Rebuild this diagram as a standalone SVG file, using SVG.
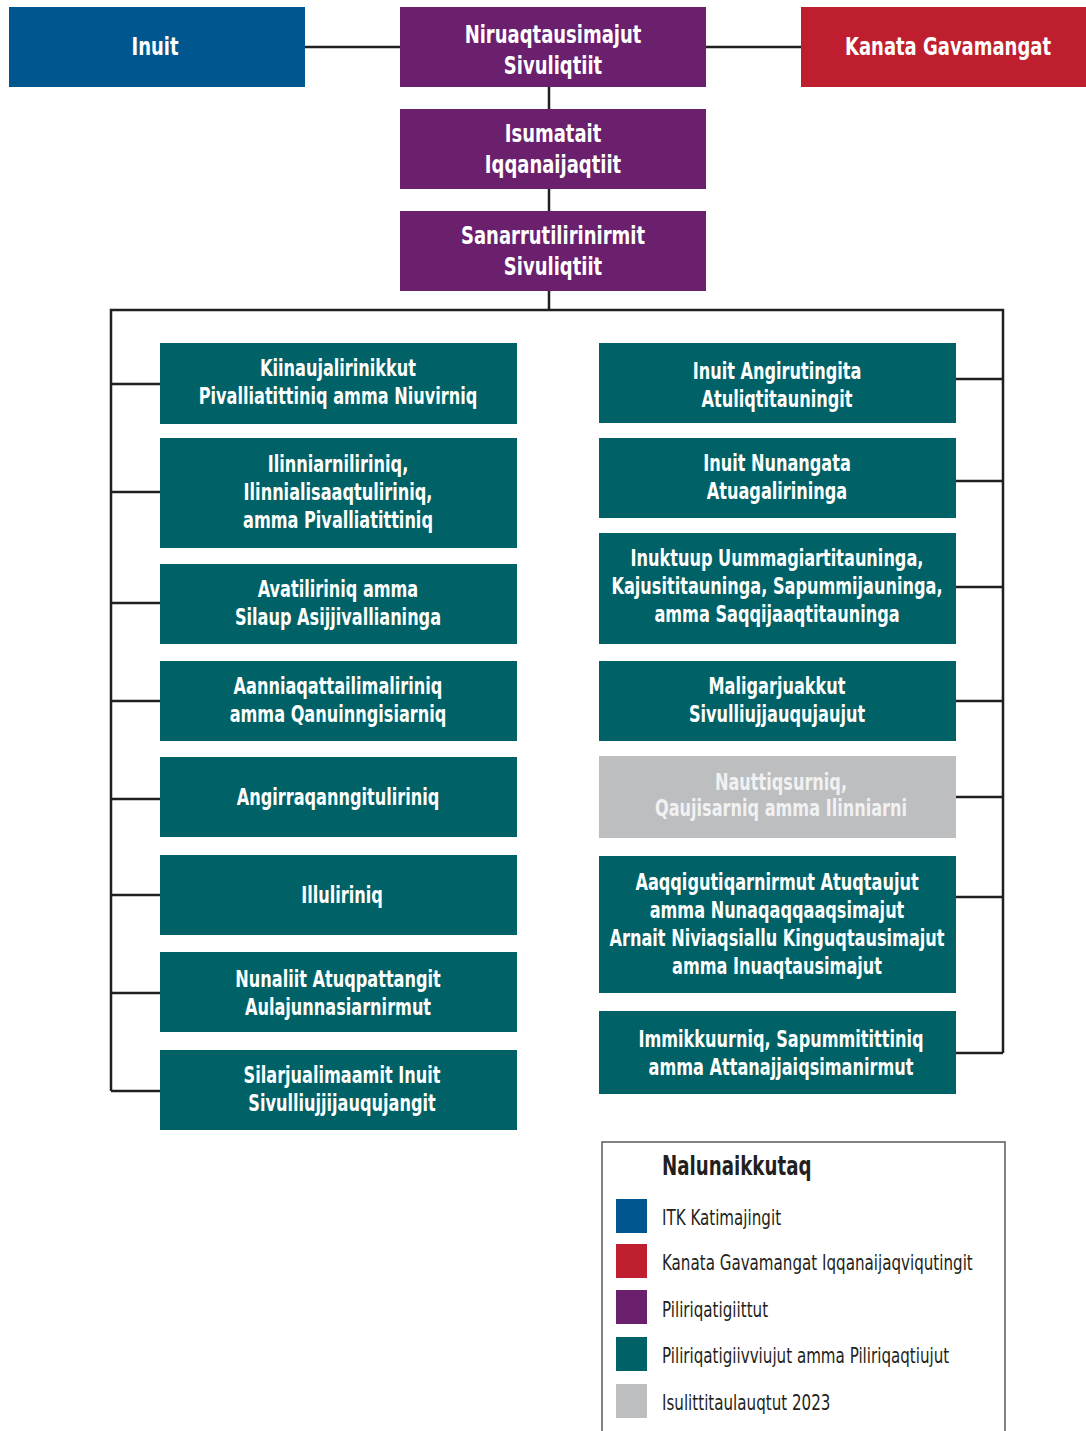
<svg xmlns="http://www.w3.org/2000/svg" width="1086" height="1431" viewBox="0 0 1086 1431">
<style>
.blue{fill:#00568f}.red{fill:#be1e2d}.pur{fill:#6b206e}.teal{fill:#006266}.grey{fill:#bcbec0}
.t{font-family:"Liberation Sans Narrow","DejaVu Sans Condensed","Liberation Sans",sans-serif;font-stretch:condensed;font-weight:bold;fill:#ffffff;text-anchor:middle;transform-box:fill-box;transform-origin:center}
.t24{font-size:25px;transform:scaleX(0.80)}.t22{font-size:23px;transform:scaleX(0.78)}
.gt{fill:#f1f1f2}
.ln{fill:none;stroke:#231f20;stroke-width:2.5}
.lg{font-family:"Liberation Sans Narrow","DejaVu Sans Condensed","Liberation Sans",sans-serif;font-stretch:condensed;fill:#231f20;font-size:20.5px;transform-box:fill-box;transform-origin:0% 50%;transform:scaleX(0.82)}
.lgt{font-weight:bold;font-size:27px;transform:scaleX(0.75)}
</style>
<g id="connectors">
<path class="ln" d="M305,47H400M706,47H801M549,87V109M549,189V211M549,291V310"/>
<path class="ln" d="M111,1091V310H1003V1053"/>
<path class="ln" d="M111,384H160M111,492H160M111,603H160M111,701H160M111,799H160M111,895H160M111,993H160M111,1091H160"/>
<path class="ln" d="M956,379H1003M956,481H1003M956,587H1003M956,701H1003M956,797H1003M956,897H1003M956,1053H1003"/>
</g>
<g id="inuit"><rect class="blue" x="9" y="7" width="296" height="80"/><text class="t t24" x="155" y="55">Inuit</text></g>
<g id="niruaqtausimajut"><rect class="pur" x="400" y="7" width="306" height="80"/><text class="t t24" x="553" y="43">Niruaqtausimajut</text><text class="t t24" x="553" y="74">Sivuliqtiit</text></g>
<g id="kanata"><rect class="red" x="801" y="7" width="285" height="80"/><text class="t t24" x="948" y="55">Kanata Gavamangat</text></g>
<g id="isumatait"><rect class="pur" x="400" y="109" width="306" height="80"/><text class="t t24" x="553" y="142">Isumatait</text><text class="t t24" x="553" y="173">Iqqanaijaqtiit</text></g>
<g id="sanarrutilirinirmit"><rect class="pur" x="400" y="211" width="306" height="80"/><text class="t t24" x="553" y="244">Sanarrutilirinirmit</text><text class="t t24" x="553" y="275">Sivuliqtiit</text></g>

<g id="l1"><rect class="teal" x="160" y="343" width="357" height="81"/><text class="t t22" x="338" y="376">Kiinaujalirinikkut</text><text class="t t22" x="338" y="404">Pivalliatittiniq amma Niuvirniq</text></g>
<g id="l2"><rect class="teal" x="160" y="438" width="357" height="110"/><text class="t t22" x="338" y="472">Ilinniarniliriniq,</text><text class="t t22" x="338" y="500">Ilinnialisaaqtuliriniq,</text><text class="t t22" x="338" y="528">amma Pivalliatittiniq</text></g>
<g id="l3"><rect class="teal" x="160" y="564" width="357" height="80"/><text class="t t22" x="338" y="597">Avatiliriniq amma</text><text class="t t22" x="338" y="625">Silaup Asijjivallianinga</text></g>
<g id="l4"><rect class="teal" x="160" y="661" width="357" height="80"/><text class="t t22" x="338" y="694">Aanniaqattailimaliriniq</text><text class="t t22" x="338" y="722">amma Qanuinngisiarniq</text></g>
<g id="l5"><rect class="teal" x="160" y="757" width="357" height="80"/><text class="t t22" x="338" y="805">Angirraqanngituliriniq</text></g>
<g id="l6"><rect class="teal" x="160" y="855" width="357" height="80"/><text class="t t22" x="342" y="903">Illuliriniq</text></g>
<g id="l7"><rect class="teal" x="160" y="952" width="357" height="80"/><text class="t t22" x="338" y="987">Nunaliit Atuqpattangit</text><text class="t t22" x="338" y="1015">Aulajunnasiarnirmut</text></g>
<g id="l8"><rect class="teal" x="160" y="1050" width="357" height="80"/><text class="t t22" x="342" y="1083">Silarjualimaamit Inuit</text><text class="t t22" x="342" y="1111">Sivulliujjijauqujangit</text></g>

<g id="r1"><rect class="teal" x="599" y="343" width="357" height="80"/><text class="t t22" x="777" y="379">Inuit Angirutingita</text><text class="t t22" x="777" y="407">Atuliqtitauningit</text></g>
<g id="r2"><rect class="teal" x="599" y="438" width="357" height="80"/><text class="t t22" x="777" y="471">Inuit Nunangata</text><text class="t t22" x="777" y="499">Atuagalirininga</text></g>
<g id="r3"><rect class="teal" x="599" y="533" width="357" height="111"/><text class="t t22" x="777" y="566">Inuktuup Uummagiartitauninga,</text><text class="t t22" x="777" y="594">Kajusititauninga, Sapummijauninga,</text><text class="t t22" x="777" y="622">amma Saqqijaaqtitauninga</text></g>
<g id="r4"><rect class="teal" x="599" y="661" width="357" height="80"/><text class="t t22" x="777" y="694">Maligarjuakkut</text><text class="t t22" x="777" y="722">Sivulliujjauqujaujut</text></g>
<g id="r5"><rect class="grey" x="599" y="756" width="357" height="82"/><text class="t t22 gt" x="781" y="790">Nauttiqsurniq,</text><text class="t t22 gt" x="781" y="816">Qaujisarniq amma Ilinniarni</text></g>
<g id="r6"><rect class="teal" x="599" y="856" width="357" height="137"/><text class="t t22" x="777" y="890">Aaqqigutiqarnirmut Atuqtaujut</text><text class="t t22" x="777" y="918">amma Nunaqaqqaaqsimajut</text><text class="t t22" x="777" y="946">Arnait Niviaqsiallu Kinguqtausimajut</text><text class="t t22" x="777" y="974">amma Inuaqtausimajut</text></g>
<g id="r7"><rect class="teal" x="599" y="1011" width="357" height="83"/><text class="t t22" x="781" y="1047">Immikkuurniq, Sapummitittiniq</text><text class="t t22" x="781" y="1075">amma Attanajjaiqsimanirmut</text></g>

<g id="legend">
<path d="M602,1431V1142H1005V1431" fill="none" stroke="#58595b" stroke-width="1.5"/>
<text class="lg lgt" x="662" y="1175">Nalunaikkutaq</text>
<rect class="blue" x="616" y="1199" width="31" height="34"/><text class="lg" x="662" y="1225">ITK Katimajingit</text>
<rect class="red" x="616" y="1244" width="31" height="34"/><text class="lg" x="662" y="1270">Kanata Gavamangat Iqqanaijaqviqutingit</text>
<rect class="pur" x="616" y="1290" width="31" height="34"/><text class="lg" x="662" y="1317">Piliriqatigiittut</text>
<rect class="teal" x="616" y="1337" width="31" height="34"/><text class="lg" x="662" y="1363">Piliriqatigiivviujut amma Piliriqaqtiujut</text>
<rect class="grey" x="616" y="1384" width="31" height="34"/><text class="lg" x="662" y="1410">Isulittitaulauqtut 2023</text>
</g>
</svg>
